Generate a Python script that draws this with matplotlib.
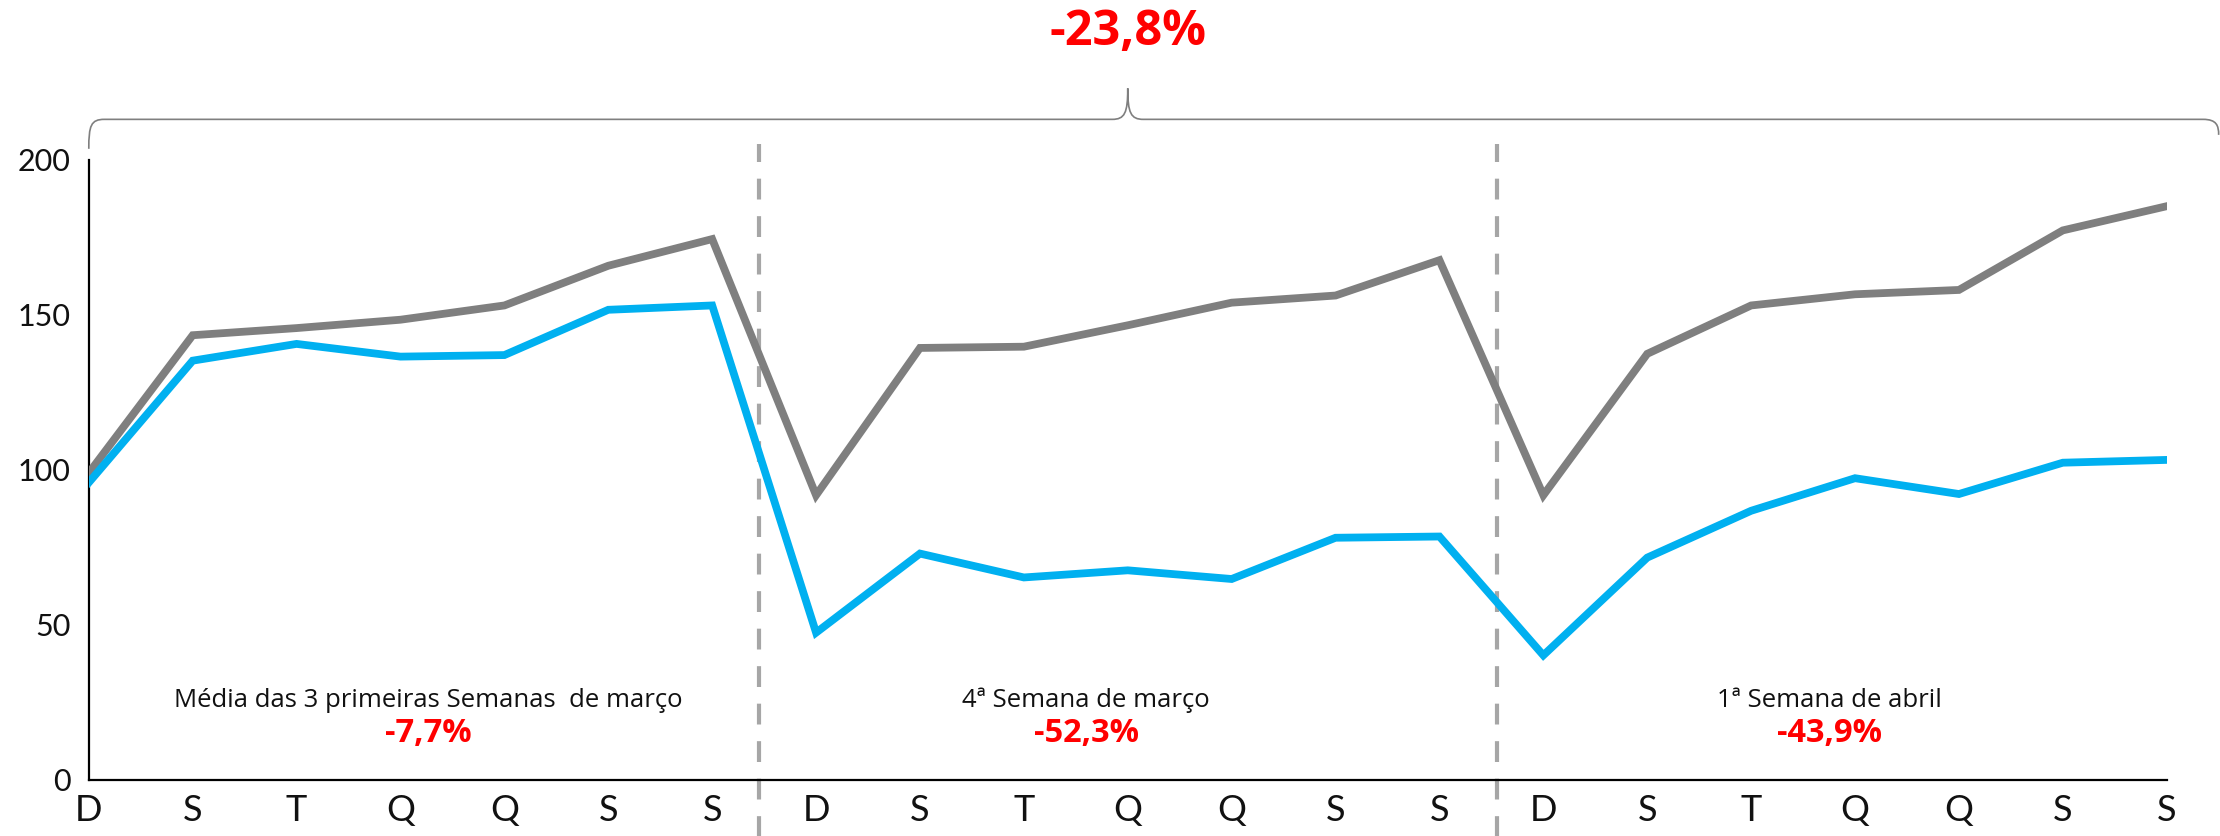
import numpy as np
import matplotlib.pyplot as plt
from matplotlib.path import Path
from matplotlib.patches import PathPatch

days = ['D', 'S', 'T', 'Q', 'Q', 'S', 'S'] * 3

gray_series = [99, 143.4, 145.7, 148.4, 153, 165.8, 174.4,
               91.8, 139.3, 139.7, 146.6, 153.9, 156.2, 167.6,
               91.8, 137.4, 153, 156.6, 158, 177.2, 185]
blue_series = [95.9, 135.2, 140.6, 136.5, 137, 151.6, 153,
               47.5, 73, 65.3, 67.6, 64.8, 78.1, 78.5,
               40.2, 71.7, 86.8, 97.3, 92.2, 102.3, 103.2]

period_labels = ['Média das 3 primeiras Semanas  de março',
                 '4ª Semana de março',
                 '1ª Semana de abril']
period_values = ['-7,7%', '-52,3%', '-43,9%']
total_value = '-23,8%'

gray = '#7f7f7f'
blue = '#00b0f0'
red = '#ff0000'
tick_font = 'Lato'
text_font = 'Open Sans'

fig = plt.figure(figsize=(22.2, 8.36), dpi=100)
ax = fig.add_axes([0.040, 0.067, 0.936, 0.742])

x = np.arange(len(days))
ax.plot(x, gray_series, color=gray, lw=5.6, solid_joinstyle='miter', zorder=3)
ax.plot(x, blue_series, color=blue, lw=5.6, solid_joinstyle='miter', zorder=3)

ax.set_xlim(0, 20)
ax.set_ylim(0, 200)
ax.set_yticks([0, 50, 100, 150, 200])
ax.set_xticks(x)
ax.set_xticklabels(days)
ax.tick_params(axis='x', length=0, pad=10, labelsize=26)
ax.tick_params(axis='y', length=0, pad=13, labelsize=22)
for lab in ax.get_xticklabels() + ax.get_yticklabels():
    lab.set_fontfamily(tick_font)
    lab.set_color('#111111')

ax.spines['top'].set_visible(False)
ax.spines['right'].set_visible(False)
ax.spines['left'].set_linewidth(1.6)
ax.spines['bottom'].set_linewidth(1.6)

# week separators
for xs in [6.45, 13.55]:
    ax.plot([xs, xs], [-19, 205], color='#a6a6a6', lw=3, ls=(0, (5, 4)),
            clip_on=False, zorder=2)

# period annotations
centers = [3.27, 9.6, 16.75]
for cx, lab, val in zip(centers, period_labels, period_values):
    ax.text(cx, 23.5, lab, ha='center', va='baseline', fontsize=18.5,
            family=text_font, color='#111111')
    ax.text(cx, 12.3, val, ha='center', va='baseline', fontsize=23.5,
            family=text_font, fontweight='bold', color=red)

# brace over the whole period
y0, y1, yp = 203.5, 213, 223
xl, xm, xr = 0, 10, 20.5
verts = [(xl, y0), (xl, y1 - 2), (xl + 0.02, y1), (xl + 0.15, y1),
         (xm - 0.15, y1), (xm - 0.03, y1), (xm, y1 + 2), (xm, yp),
         (xm, y1 + 2), (xm + 0.03, y1), (xm + 0.15, y1),
         (xr - 0.15, y1), (xr - 0.02, y1), (xr, y1 - 2), (xr, y1 - 5)]
codes = [Path.MOVETO, Path.CURVE4, Path.CURVE4, Path.CURVE4,
         Path.LINETO, Path.CURVE4, Path.CURVE4, Path.CURVE4,
         Path.CURVE4, Path.CURVE4, Path.CURVE4,
         Path.LINETO, Path.CURVE4, Path.CURVE4, Path.CURVE4]
brace = PathPatch(Path(verts, codes), fill=False, edgecolor=gray, lw=1.2,
                  clip_on=False)
ax.add_patch(brace)

ax.text(xm, 237, total_value, ha='center', va='baseline', fontsize=35,
        family=text_font, fontweight='bold', color=red, clip_on=False)

fig.savefig('out.png', dpi=100)
